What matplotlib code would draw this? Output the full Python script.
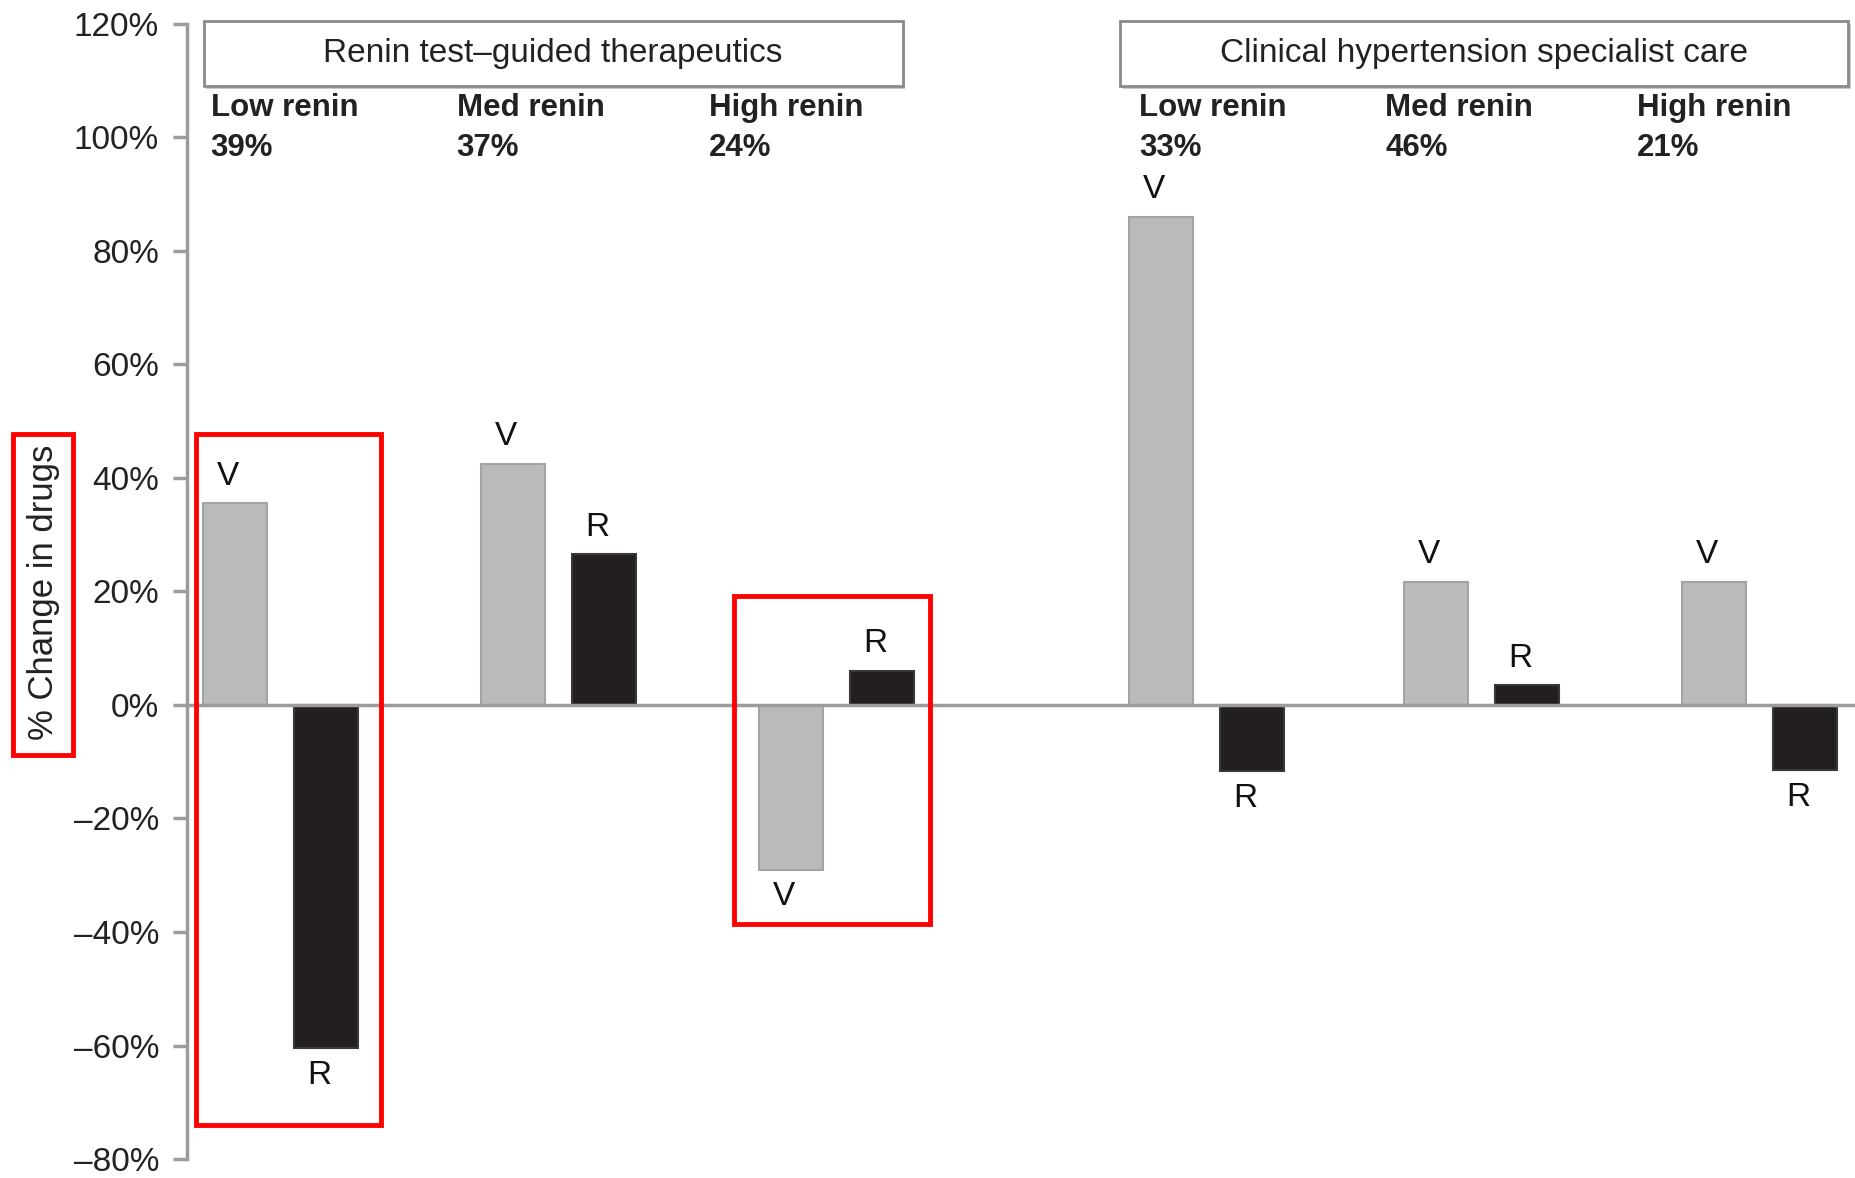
import matplotlib
matplotlib.use("Agg")
import matplotlib.pyplot as plt
from matplotlib.patches import Rectangle
from matplotlib.ticker import FuncFormatter
import numpy as np

plt.rcParams['font.family'] = ['Liberation Sans', 'DejaVu Sans']

# data
panels = ['Renin test\u2013guided therapeutics', 'Clinical hypertension specialist care']
renin_groups = ['Low renin', 'Med renin', 'High renin', 'Low renin', 'Med renin', 'High renin']
group_share = ['39%', '37%', '24%', '33%', '46%', '21%']
v_change = [35.5, 42.5, -29.0, 86.0, 21.7, 21.7]     # V drugs
r_change = [-60.5, 26.5, 6.0, -11.7, 3.5, -11.5]     # R drugs
yticks = [-80, -60, -40, -20, 0, 20, 40, 60, 80, 100, 120]

# layout
centers = 0.337 + np.array([0, 1, 2, 3.33, 4.32, 5.32])
off = 0.164
w = 0.23
label_x = [0.085, 0.97, 1.877, 3.426, 4.311, 5.217]
grey = '#b9babc'
black = '#231f20'
axgrey = '#9c9c9e'

fig = plt.figure(figsize=(18.55, 11.78), dpi=100)
ax = fig.add_axes([0.1008, 0.016, 0.8992, 0.964])

ax.bar(centers - off, v_change, width=w, color=grey, edgecolor='#a2a3a5', linewidth=1.5, zorder=2)
ax.bar(centers + off, r_change, width=w, color=black, edgecolor='#3a3738', linewidth=1.5, zorder=2)
ax.axhline(0, color=axgrey, lw=2.5, zorder=3)

for xs, vals, let in [(centers - off, v_change, 'V'), (centers + off, r_change, 'R')]:
    for x, v in zip(xs, vals):
        if v >= 0:
            ax.text(x - 0.025, v + 2.0, let, ha='center', va='bottom', fontsize=24, color='#111')
        else:
            ax.text(x - 0.025, v - 2.0, let, ha='center', va='top', fontsize=24, color='#111')

for x, g, s in zip(label_x, renin_groups, group_share):
    ax.text(x, 105.2, g, ha='left', va='center', fontsize=22.5, color='#222', fontweight='bold')
    ax.text(x, 98.0, s, ha='left', va='center', fontsize=22.5, color='#222', fontweight='bold')

for (x0, x1), title in zip([(0.06, 2.574), (3.357, 5.974)], panels):
    ax.add_patch(Rectangle((x0 + 0.01, 108.4), x1 - x0, 11.5, facecolor='#c8c8c8',
                           edgecolor='none', zorder=4, clip_on=False))
    ax.add_patch(Rectangle((x0, 109.0), x1 - x0, 11.5, facecolor='white',
                           edgecolor='#8a8a8a', lw=2, zorder=5, clip_on=False))
    ax.text((x0 + x1) / 2, 114.7, title, ha='center', va='center', fontsize=24,
            color='#222', zorder=6)

# red highlight boxes
for (x0, x1, y0, y1) in [(0.034, 0.698, -73.9, 47.8), (1.966, 2.672, -38.6, 19.2)]:
    ax.add_patch(Rectangle((x0, y0), x1 - x0, y1 - y0, fill=False, edgecolor='#ff0000',
                           lw=3.5, zorder=7, clip_on=False))

ax.set_xlim(0, 6.0)
ax.set_ylim(-80, 120)
ax.set_yticks(yticks)
ax.yaxis.set_major_formatter(FuncFormatter(lambda v, p: ('\u2013%d%%' % -v) if v < 0 else '%d%%' % v))
ax.tick_params(axis='y', length=10, width=2.5, color=axgrey, labelsize=24, pad=10,
               labelcolor='#222')
ax.set_xticks([])
for s in ['top', 'right', 'bottom']:
    ax.spines[s].set_visible(False)
ax.spines['left'].set_color(axgrey)
ax.spines['left'].set_linewidth(2.5)

fig.text(0.0235, 0.497, '% Change in drugs', rotation=90, ha='center', va='center',
         fontsize=25, color='#222')
fig.patches.append(Rectangle((0.0070, 0.359), 0.0325, 0.273, fill=False, edgecolor='#ff0000',
                             lw=3.5, transform=fig.transFigure, figure=fig))

fig.savefig('out.png', dpi=100)
